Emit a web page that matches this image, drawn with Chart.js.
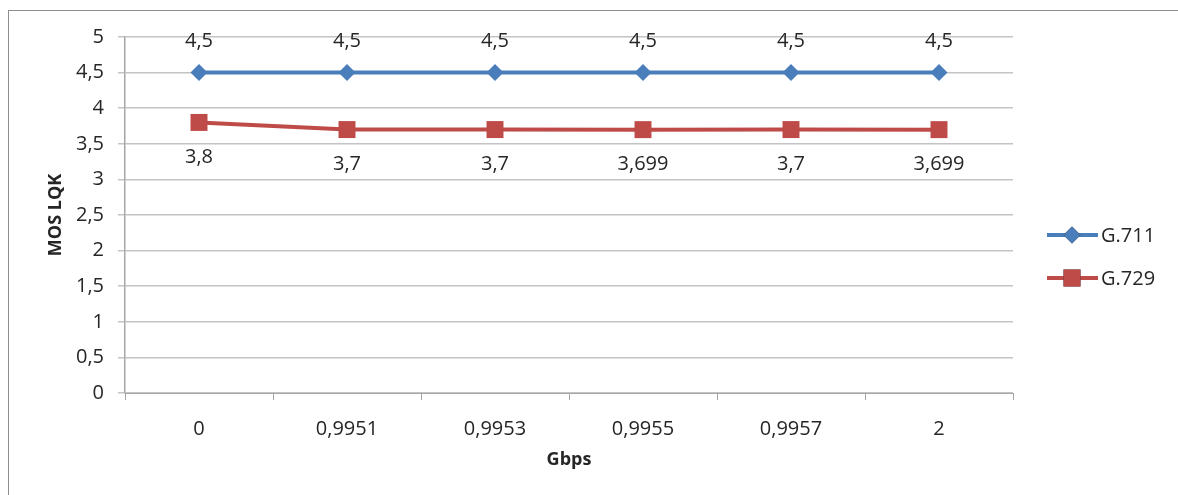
<!DOCTYPE html>
<html>
<head>
<meta charset="utf-8">
<script src="https://cdn.jsdelivr.net/npm/chart.js@4"></script>
<style>
    body { margin: 0; background: #fff; overflow: hidden; }
    #frame {
        position: absolute; left: 8px; top: 10px;
        width: 1200px; height: 500px;
        border: 1px solid #8e8e8e;
    }
    #wrap { position: absolute; left: 0; top: 0; width: 1178px; height: 495px; }
</style>
</head>
<body>
<div id="frame"></div>
<div id="wrap"><canvas id="chart1" width="1178" height="495"></canvas></div>
<script>
const categories = ['0', '0,9951', '0,9953', '0,9955', '0,9957', '2'];
const g711 = [4.5, 4.5, 4.5, 4.5, 4.5, 4.5];
const g729 = [3.8, 3.7, 3.7, 3.699, 3.7, 3.699];
const yTicks = [0, 0.5, 1, 1.5, 2, 2.5, 3, 3.5, 4, 4.5, 5];

const FONT = '"Open Sans", "Liberation Sans", sans-serif';
const TEXT = '#262626';

function comma(v) {
    return String(v).replace('.', ',');
}

// nhan gia tri tren/duoi diem
const pointLabels = {
    id: 'pointLabels',
    afterDatasetsDraw(chart) {
        const ctx = chart.ctx;
        ctx.save();
        ctx.font = '20px ' + FONT;
        ctx.fillStyle = TEXT;
        ctx.textAlign = 'center';
        ctx.textBaseline = 'middle';
        chart.data.datasets.forEach((ds, i) => {
            const meta = chart.getDatasetMeta(i);
            meta.data.forEach((pt, j) => {
                const dy = ds.labelPos === 'above' ? -31 : 35;
                ctx.fillText(comma(ds.data[j]), pt.x, pt.y + dy);
            });
        });
        ctx.restore();
    }
};

// chu giai kieu Excel (duong + dau)
const sideLegend = {
    id: 'sideLegend',
    afterDraw(chart) {
        const ctx = chart.ctx;
        ctx.save();
        chart.data.datasets.forEach((ds, i) => {
            const y = 235 + i * 43;
            ctx.strokeStyle = ds.borderColor;
            ctx.lineWidth = 4;
            ctx.beginPath();
            ctx.moveTo(1047, y);
            ctx.lineTo(1098, y);
            ctx.stroke();
            Chart.helpers.drawPoint(ctx, {
                pointStyle: ds.pointStyle,
                radius: ds.pointRadius,
                borderWidth: 0
            }, 1072, y);
            ctx.fillStyle = ds.pointBackgroundColor;
            ctx.fill();
            ctx.font = '20px ' + FONT;
            ctx.fillStyle = TEXT;
            ctx.textAlign = 'left';
            ctx.textBaseline = 'middle';
            ctx.fillText(ds.label, 1101, y + 1);
        });
        ctx.restore();
    }
};

const data = {
    labels: categories,
    datasets: [
        {
            label: 'G.711',
            data: g711,
            borderColor: '#4a7ebb',
            backgroundColor: '#4a7ebb',
            pointBackgroundColor: '#4a7ebb',
            pointBorderWidth: 0,
            pointStyle: 'rectRot',
            pointRadius: 8.5,
            borderWidth: 4,
            labelPos: 'above'
        },
        {
            label: 'G.729',
            data: g729,
            borderColor: '#be4b48',
            backgroundColor: '#be4b48',
            pointBackgroundColor: '#be4b48',
            pointBorderWidth: 0,
            pointStyle: 'rect',
            pointRadius: 12,
            borderWidth: 4,
            labelPos: 'below'
        }
    ]
};

const config = {
    type: 'line',
    data: data,
    options: {
        responsive: false,
        animation: false,
        layout: {
            padding: { left: 41, right: 165, top: 37, bottom: 0 }
        },
        plugins: {
            legend: { display: false },
            tooltip: { enabled: false }
        },
        scales: {
            x: {
                offset: true,
                afterFit: s => { s.height = 102; },
                grid: {
                    offset: true,
                    drawOnChartArea: false,
                    drawTicks: true,
                    tickLength: 7,
                    color: '#a6a6a6'
                },
                border: { color: '#a6a6a6', width: 1 },
                ticks: {
                    color: TEXT,
                    font: { family: FONT, size: 20 },
                    padding: 17,
                    maxRotation: 0
                },
                title: {
                    display: true,
                    text: 'Gbps',
                    color: TEXT,
                    font: { family: FONT, size: 18, weight: 'bold' },
                    padding: { top: 4, bottom: 24 }
                }
            },
            y: {
                min: 0,
                max: 5,
                afterFit: s => { s.width = 84; },
                afterBuildTicks: s => { s.ticks = yTicks.map(v => ({ value: v })); },
                grid: {
                    color: '#c4c4c4',
                    lineWidth: 1.5,
                    drawTicks: true,
                    tickLength: 7
                },
                border: { color: '#a6a6a6', width: 1.5 },
                ticks: {
                    color: TEXT,
                    font: { family: FONT, size: 20 },
                    padding: 14,
                    callback: v => comma(v)
                },
                title: {
                    display: true,
                    text: 'MOS LQK',
                    color: TEXT,
                    font: { family: FONT, size: 18, weight: 'bold' },
                    padding: { top: 4, bottom: 4 }
                }
            }
        }
    },
    plugins: [pointLabels, sideLegend]
};

const chart1 = new Chart(document.getElementById('chart1'), config);
</script>
</body>
</html>
